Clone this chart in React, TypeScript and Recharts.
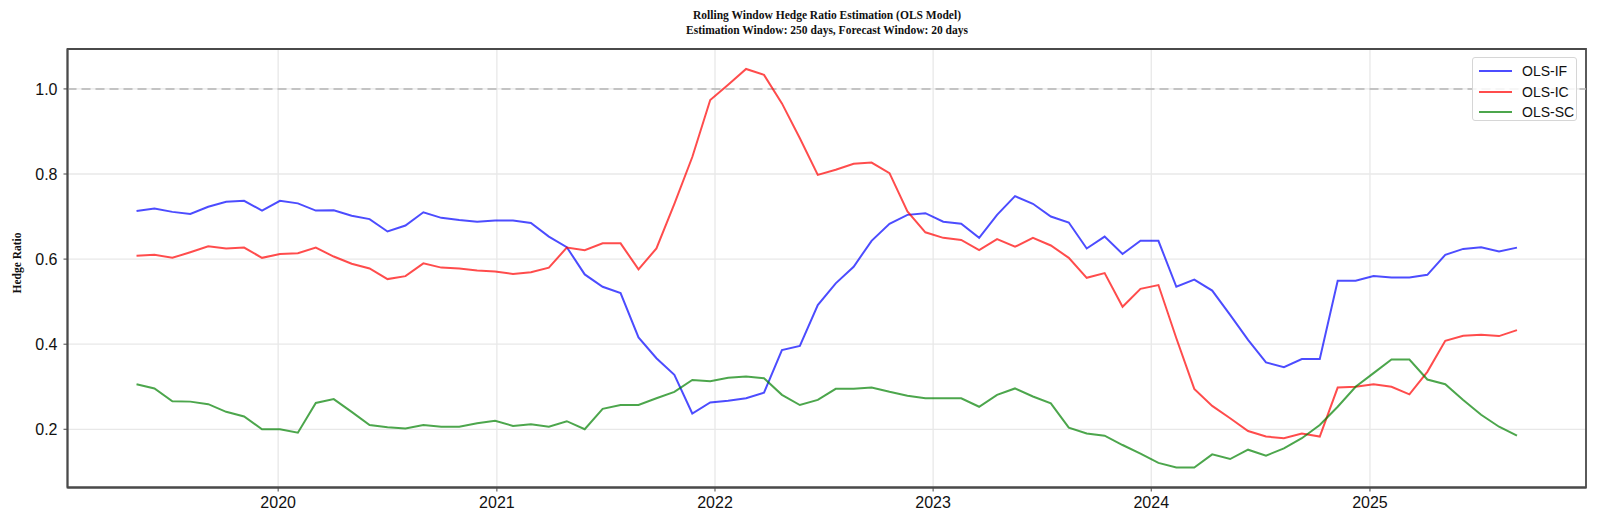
import React from "react";
import {
  LineChart,
  Line,
  XAxis,
  YAxis,
  CartesianGrid,
  ReferenceLine,
  ReferenceArea,
} from "recharts";

// sample dates (one forecast step apart)
const DATES = [
  "2019-05-09", "2019-06-08", "2019-07-08", "2019-08-07", "2019-09-06", "2019-10-06",
  "2019-11-05", "2019-12-05", "2020-01-04", "2020-02-03", "2020-03-04", "2020-04-03",
  "2020-05-03", "2020-06-02", "2020-07-02", "2020-08-01", "2020-08-31", "2020-09-30",
  "2020-10-30", "2020-11-29", "2020-12-29", "2021-01-28", "2021-02-27", "2021-03-29",
  "2021-04-28", "2021-05-28", "2021-06-27", "2021-07-27", "2021-08-26", "2021-09-25",
  "2021-10-25", "2021-11-24", "2021-12-24", "2022-01-23", "2022-02-22", "2022-03-24",
  "2022-04-23", "2022-05-23", "2022-06-22", "2022-07-22", "2022-08-21", "2022-09-20",
  "2022-10-20", "2022-11-19", "2022-12-19", "2023-01-18", "2023-02-17", "2023-03-19",
  "2023-04-18", "2023-05-18", "2023-06-17", "2023-07-17", "2023-08-16", "2023-09-15",
  "2023-10-15", "2023-11-14", "2023-12-14", "2024-01-13", "2024-02-12", "2024-03-13",
  "2024-04-12", "2024-05-12", "2024-06-11", "2024-07-11", "2024-08-10", "2024-09-09",
  "2024-10-09", "2024-11-08", "2024-12-08", "2025-01-07", "2025-02-06", "2025-03-08",
  "2025-04-07", "2025-05-07", "2025-06-06", "2025-07-06", "2025-08-05", "2025-09-04",
];

const OLS_IF = [
  0.713, 0.719, 0.711, 0.706, 0.723, 0.735, 0.737, 0.714, 0.737, 0.731, 0.714, 0.715,
  0.702, 0.694, 0.665, 0.679, 0.710, 0.697, 0.692, 0.688, 0.691, 0.691, 0.685, 0.653,
  0.628, 0.564, 0.535, 0.520, 0.416, 0.367, 0.328, 0.237, 0.263, 0.267, 0.273, 0.286,
  0.386, 0.396, 0.492, 0.543, 0.582, 0.643, 0.683, 0.704, 0.708, 0.688, 0.683, 0.650,
  0.704, 0.748, 0.730, 0.700, 0.686, 0.625, 0.653, 0.612, 0.643, 0.643, 0.535, 0.552,
  0.526, 0.469, 0.410, 0.357, 0.346, 0.365, 0.365, 0.549, 0.549, 0.560, 0.557, 0.557,
  0.563, 0.610, 0.624, 0.628, 0.618, 0.627,
];

const OLS_IC = [
  0.608, 0.610, 0.603, 0.616, 0.630, 0.625, 0.627, 0.603, 0.612, 0.614, 0.627, 0.606,
  0.589, 0.578, 0.553, 0.560, 0.590, 0.580, 0.578, 0.573, 0.571, 0.565, 0.569, 0.580,
  0.627, 0.621, 0.637, 0.637, 0.576, 0.625, 0.730, 0.840, 0.974, 1.010, 1.047, 1.033,
  0.966, 0.884, 0.798, 0.810, 0.824, 0.827, 0.802, 0.712, 0.663, 0.650, 0.645, 0.621,
  0.647, 0.629, 0.650, 0.632, 0.603, 0.556, 0.567, 0.488, 0.530, 0.539, 0.414, 0.295,
  0.255, 0.226, 0.196, 0.183, 0.179, 0.190, 0.183, 0.298, 0.300, 0.306, 0.300, 0.282,
  0.335, 0.408, 0.420, 0.422, 0.419, 0.433,
];

const OLS_SC = [
  0.306, 0.296, 0.266, 0.265, 0.259, 0.241, 0.230, 0.200, 0.200, 0.192, 0.262, 0.271,
  0.241, 0.210, 0.205, 0.202, 0.210, 0.206, 0.206, 0.214, 0.220, 0.208, 0.212, 0.206,
  0.219, 0.200, 0.248, 0.257, 0.257, 0.273, 0.288, 0.316, 0.313, 0.321, 0.324, 0.320,
  0.281, 0.257, 0.269, 0.295, 0.295, 0.298, 0.288, 0.279, 0.273, 0.273, 0.273, 0.253,
  0.281, 0.296, 0.277, 0.261, 0.204, 0.190, 0.185, 0.163, 0.143, 0.121, 0.110, 0.110,
  0.141, 0.130, 0.152, 0.138, 0.155, 0.179, 0.210, 0.253, 0.300, 0.332, 0.364, 0.364,
  0.317, 0.306, 0.269, 0.234, 0.206, 0.185,
];

const YEAR_TICKS = ["2020-01-01", "2021-01-01", "2022-01-01", "2023-01-01", "2024-01-01", "2025-01-01"];
const Y_TICKS = [0.2, 0.4, 0.6, 0.8, 1.0];

const SERIES = [
  { key: "if", name: "OLS-IF", color: "blue" },
  { key: "ic", name: "OLS-IC", color: "red" },
  { key: "sc", name: "OLS-SC", color: "green" },
];

const rows = DATES.map((d, i) => ({
  t: Date.parse(d),
  if: OLS_IF[i],
  ic: OLS_IC[i],
  sc: OLS_SC[i],
}));

// matplotlib-style 5% margins
const t0 = rows[0].t;
const t1 = rows[rows.length - 1].t;
const xPad = (t1 - t0) * 0.05;
const xDomain = [t0 - xPad, t1 + xPad];
const allVals = [...OLS_IF, ...OLS_IC, ...OLS_SC];
const yMin = Math.min(...allVals);
const yMax = Math.max(...allVals);
const yPad = (yMax - yMin) * 0.05;
const yDomain = [yMin - yPad, yMax + yPad];
const xTicks = YEAR_TICKS.map((d) => Date.parse(d));

const FRAME = "#4a4a4a";
const tickStyle = { fontSize: 16, fill: "#111", fontFamily: "Liberation Sans, Arial, sans-serif" };

function LegendBox() {
  return (
    <div
      style={{
        position: "absolute",
        left: 1472,
        top: 57,
        width: 105,
        height: 64,
        border: "1px solid #d6d6d6",
        borderRadius: 3,
        background: "rgba(255,255,255,0.85)",
        boxSizing: "border-box",
        padding: "3px 0 0 6px",
        fontFamily: "Liberation Sans, Arial, sans-serif",
        fontSize: 14,
      }}
    >
      {SERIES.map((s) => (
        <div key={s.key} style={{ display: "flex", alignItems: "center", height: 20.5 }}>
          <span
            style={{
              display: "inline-block",
              width: 33,
              height: 2,
              background: s.color,
              opacity: 0.7,
              marginRight: 10,
            }}
          />
          <span style={{ color: "#111" }}>{s.name}</span>
        </div>
      ))}
    </div>
  );
}

export default function App() {
  return (
    <div style={{ position: "absolute", left: 0, top: 0, width: 1599, height: 525, background: "#fff" }}>
      {/* Title */}
      <div
        style={{
          position: "absolute",
          left: 527,
          top: 8,
          width: 600,
          textAlign: "center",
          fontFamily: "Liberation Serif, Times New Roman, serif",
          fontWeight: "bold",
          fontSize: 11.5,
          lineHeight: "15px",
          color: "#111",
        }}
      >
        <div>Rolling Window Hedge Ratio Estimation (OLS Model)</div>
        <div>Estimation Window: 250 days, Forecast Window: 20 days</div>
      </div>

      {/* Y label */}
      <div
        style={{
          position: "absolute",
          left: 17,
          top: 263,
          transform: "translate(-50%, -50%) rotate(-90deg)",
          whiteSpace: "nowrap",
          fontFamily: "Liberation Serif, Times New Roman, serif",
          fontWeight: "bold",
          fontSize: 11.5,
          color: "#111",
        }}
      >
        Hedge Ratio
      </div>

      <LineChart
        width={1599}
        height={525}
        data={rows}
        margin={{ top: 49, right: 13, bottom: 7, left: 7 }}
      >
        <CartesianGrid stroke="#e8e8e8" strokeWidth={1.3} />
        <XAxis
          dataKey="t"
          type="number"
          domain={xDomain}
          ticks={xTicks}
          allowDataOverflow
          height={30.5}
          tick={tickStyle}
          tickSize={4}
          tickMargin={5}
          tickLine={{ stroke: FRAME }}
          axisLine={{ stroke: FRAME, strokeWidth: 1.8 }}
          tickFormatter={(v: number) => String(new Date(v).getUTCFullYear())}
        />
        <YAxis
          type="number"
          domain={yDomain}
          ticks={Y_TICKS}
          allowDataOverflow
          width={60.5}
          tick={tickStyle}
          tickSize={4}
          tickMargin={6}
          tickLine={{ stroke: FRAME }}
          axisLine={{ stroke: FRAME, strokeWidth: 1.8 }}
          tickFormatter={(v: number) => v.toFixed(1)}
        />
        <ReferenceLine y={1} stroke="#b5b5b5" strokeDasharray="9 5" strokeWidth={1.6} />
        {SERIES.map((s) => (
          <Line
            key={s.key}
            type="linear"
            dataKey={s.key}
            name={s.name}
            stroke={s.color}
            strokeOpacity={0.7}
            strokeWidth={2}
            dot={false}
            isAnimationActive={false}
          />
        ))}
        {/* plot frame */}
        <ReferenceArea
          x1={xDomain[0]}
          x2={xDomain[1]}
          y1={yDomain[0]}
          y2={yDomain[1]}
          fill="none"
          fillOpacity={0}
          stroke={FRAME}
          strokeWidth={1.8}
          ifOverflow="visible"
        />
      </LineChart>

      <LegendBox />
    </div>
  );
}
